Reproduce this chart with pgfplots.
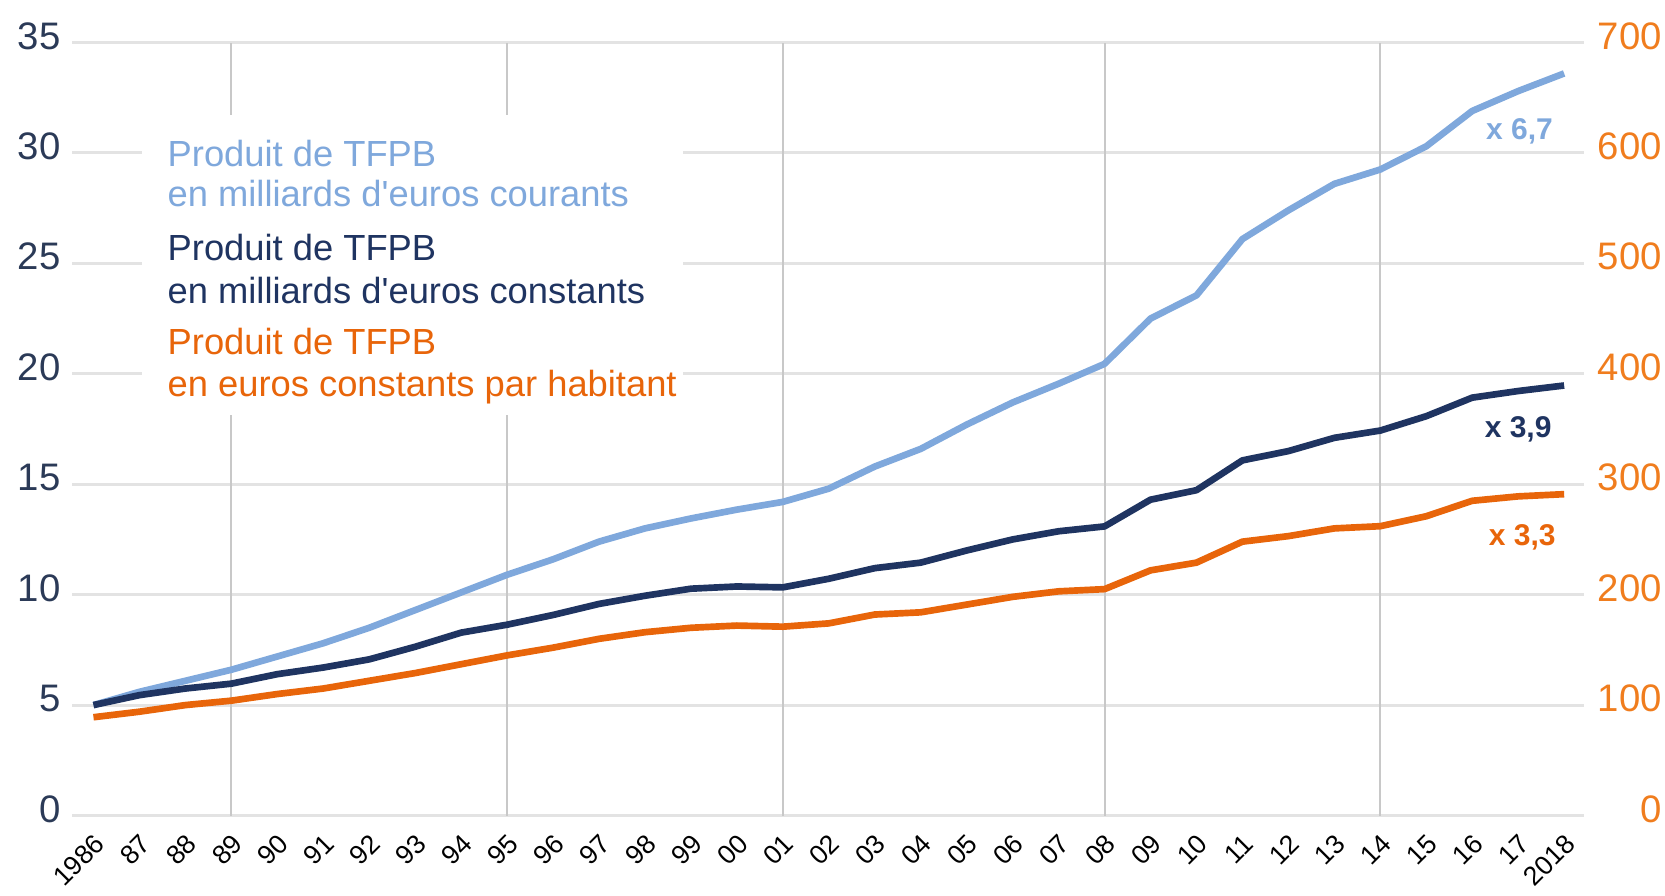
\documentclass[border=0pt]{standalone}
\usepackage{pgfplots}
\pgfplotsset{compat=1.18}
\usepackage{fontspec}
\setmainfont{Liberation Sans}
\definecolor{lblue}{HTML}{7FA8DC}
\definecolor{navy}{HTML}{1F3461}
\definecolor{orng}{HTML}{E8650A}
\definecolor{orlab}{HTML}{F07D1E}
\definecolor{ylab}{HTML}{2B3A57}
\definecolor{hgrid}{HTML}{E3E3E3}
\definecolor{vgrid}{HTML}{C8C8C8}

\pgfplotstableread{
year cour cons
1986 5.0 5.0
1987 5.6 5.45
1988 6.1 5.75
1989 6.6 5.97
1990 7.2 6.4
1991 7.8 6.7
1992 8.5 7.07
1993 9.3 7.64
1994 10.1 8.28
1995 10.9 8.64
1996 11.6 9.08
1997 12.4 9.58
1998 13.0 9.95
1999 13.45 10.27
2000 13.85 10.37
2001 14.2 10.33
2002 14.8 10.72
2003 15.8 11.2
2004 16.6 11.45
2005 17.7 12.0
2006 18.7 12.5
2007 19.55 12.87
2008 20.45 13.09
2009 22.5 14.3
2010 23.55 14.73
2011 26.1 16.08
2012 27.4 16.5
2013 28.6 17.1
2014 29.25 17.43
2015 30.3 18.08
2016 31.9 18.92
2017 32.8 19.22
2018 33.6 19.47
}\datamain

\pgfplotstableread{
year hab
1986 89
1987 94
1988 100
1989 104
1990 110
1991 115
1992 122
1993 129
1994 137
1995 145
1996 152
1997 160
1998 166
1999 170
2000 172
2001 171
2002 174
2003 182
2004 184
2005 191
2006 198
2007 203
2008 205
2009 222
2010 229
2011 248
2012 253
2013 260
2014 262
2015 271
2016 285
2017 289
2018 291
}\datahab

\begin{document}
\begin{tikzpicture}
\useasboundingbox (-21.7pt,-23.85pt) rectangle (477.8pt,244.65pt);
\begin{axis}[
  scale only axis, width=453.6pt, height=231.9pt,
  xmin=1985.54, xmax=2018.44, ymin=0, ymax=35,
  axis line style={draw=none},
  major tick length=0pt,
  ytick={0,5,...,35},
  ymajorgrids,
  major grid style={hgrid, line width=0.9pt},
  xtick={1986,...,2018},
  xticklabels={1986,87,88,89,90,91,92,93,94,95,96,97,98,99,00,01,02,03,04,05,06,07,08,09,10,11,12,13,14,15,16,17,2018},
  extra x ticks={1989,1995,2001,2008,2014},
  extra x tick labels={},
  extra x tick style={grid=major, major grid style={vgrid, line width=0.6pt}},
  /pgf/number format/assume math mode=true,
  yticklabel style={font=\fontsize{11.5}{13}\selectfont, text=ylab, yshift=2pt},
  xticklabel style={yshift=-7pt, xshift=2pt, rotate=45, anchor=east, font=\fontsize{8}{9}\selectfont, text=black, inner sep=0pt},
  clip=false,
]
\addplot[lblue, line width=2pt, line join=round] table[x=year, y=cour] {\datamain};
\addplot[navy, line width=2pt, line join=round] table[x=year, y=cons] {\datamain};
\fill[white] (axis cs:1987.06,18.13) rectangle (axis cs:1998.82,31.73);
\begin{scope}[every node/.style={anchor=base west, inner sep=0pt, font=\fontsize{10.9}{12}\selectfont}]
\node[text=lblue] at (axis cs:1987.6,29.38) {Produit de TFPB};
\node[text=lblue] at (axis cs:1987.6,27.57) {en milliards d\textquotesingle euros courants};
\node[text=navy] at (axis cs:1987.6,25.14) {Produit de TFPB};
\node[text=navy] at (axis cs:1987.6,23.19) {en milliards d\textquotesingle euros constants};
\node[text=orng] at (axis cs:1987.6,20.87) {Produit de TFPB};
\node[text=orng] at (axis cs:1987.6,18.97) {en euros constants par habitant};
\end{scope}
\node[font=\bfseries\fontsize{9}{10}\selectfont, text=lblue] at (axis cs:2017.03,31.0) {x 6,7};
\node[font=\bfseries\fontsize{9}{10}\selectfont, text=navy] at (axis cs:2017.0,17.47) {x 3,9};
\node[font=\bfseries\fontsize{9}{10}\selectfont, text=orng] at (axis cs:2017.09,12.6) {x 3,3};
\end{axis}
\begin{axis}[
  scale only axis, width=453.6pt, height=231.9pt,
  xmin=1985.54, xmax=2018.44, ymin=0, ymax=700,
  axis x line=none,
  axis y line*=right,
  axis line style={draw=none},
  major tick length=0pt,
  ytick={0,100,...,700},
  /pgf/number format/assume math mode=true,
  yticklabel style={font=\fontsize{11.5}{13}\selectfont, text=orlab, anchor=east, inner sep=0pt, xshift=23.4pt, yshift=2pt},
]
\addplot[orng, line width=2pt, line join=round] table[x=year, y=hab] {\datahab};
\end{axis}
\end{tikzpicture}
\end{document}
